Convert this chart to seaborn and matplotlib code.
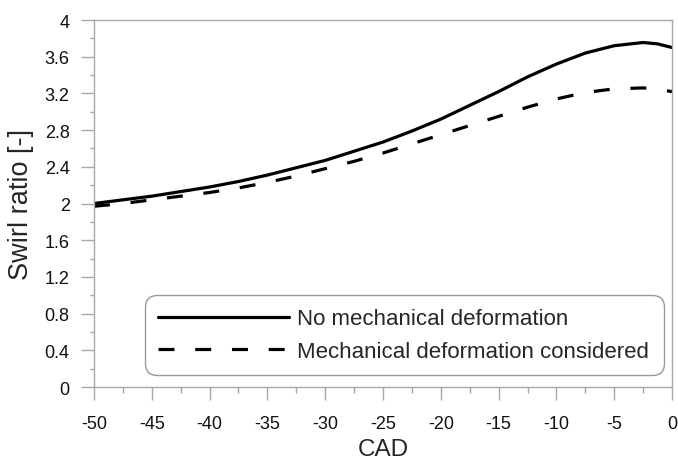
import matplotlib
matplotlib.use("Agg")
import matplotlib.pyplot as plt
from matplotlib.ticker import MultipleLocator, FuncFormatter
import numpy as np
import pandas as pd
import seaborn as sns

# Crank angle (degrees) and swirl ratio for the two cases
cad = [-50, -47.5, -45, -42.5, -40, -37.5, -35, -32.5, -30, -27.5, -25,
       -22.5, -20, -17.5, -15, -12.5, -10, -7.5, -5, -2.5, -1.25, 0]
swirl_rigid = [2.00, 2.04, 2.08, 2.13, 2.18, 2.24, 2.31, 2.39, 2.47, 2.57, 2.67,
               2.79, 2.92, 3.07, 3.22, 3.38, 3.52, 3.64, 3.72, 3.755, 3.74, 3.70]
swirl_deformed = [1.97, 2.00, 2.04, 2.08, 2.12, 2.17, 2.23, 2.30, 2.38, 2.46, 2.55,
                  2.65, 2.75, 2.85, 2.95, 3.05, 3.14, 3.21, 3.25, 3.26, 3.245, 3.22]

label_rigid = "No mechanical deformation"
label_deformed = "Mechanical deformation considered"

df = pd.concat([
    pd.DataFrame({"CAD": cad, "swirl": swirl_rigid, "case": label_rigid}),
    pd.DataFrame({"CAD": cad, "swirl": swirl_deformed, "case": label_deformed}),
], ignore_index=True)

sns.set_style("ticks")
plt.rcParams["font.family"] = ["Liberation Sans", "DejaVu Sans"]

fig = plt.figure(figsize=(6.78, 4.6), dpi=100)
ax = fig.add_axes([0.1386, 0.1565, 0.8526, 0.7978])

sns.lineplot(
    data=df, x="CAD", y="swirl", style="case",
    style_order=[label_rigid, label_deformed],
    dashes={label_rigid: "", label_deformed: (5, 6.5)},
    color="black", linewidth=2.3, ax=ax, sort=False,
)

ax.set_xlim(-50, 0)
ax.set_ylim(0, 4)
ax.xaxis.set_major_locator(MultipleLocator(5))
ax.xaxis.set_minor_locator(MultipleLocator(2.5))
ax.yaxis.set_major_locator(MultipleLocator(0.4))
ax.yaxis.set_minor_locator(MultipleLocator(0.2))
ax.yaxis.set_major_formatter(FuncFormatter(lambda v, p: f"{v:g}"))
ax.xaxis.set_major_formatter(FuncFormatter(lambda v, p: f"{v:g}"))

spine_gray = "#a8a8a8"
for s in ax.spines.values():
    s.set_visible(True)
    s.set_color(spine_gray)
    s.set_linewidth(1.0)

ax.tick_params(axis="both", which="major", direction="out", length=9.5,
               width=1.0, color=spine_gray, labelsize=13, labelcolor="#111111")
ax.tick_params(axis="y", which="major", pad=8)
ax.tick_params(axis="x", which="major", pad=11)
ax.tick_params(axis="x", which="minor", direction="out", length=4,
               width=1.0, color=spine_gray)
ax.tick_params(axis="y", which="minor", direction="out", length=3,
               width=1.0, color=spine_gray)

ax.set_xlabel("CAD", fontsize=17.5, labelpad=4)
ax.set_ylabel("Swirl ratio [-]", fontsize=19.5, labelpad=8)

handles, labels = ax.get_legend_handles_labels()
leg = ax.legend(
    handles, labels,
    loc="lower left", bbox_to_anchor=(0.088, 0.033, 0.898, 0.23),
    mode="expand", fontsize=16, handlelength=5.9, handletextpad=0.35,
    labelspacing=0.5, borderpad=0.6, borderaxespad=0,
    frameon=True, fancybox=True, framealpha=1,
)
frame = leg.get_frame()
frame.set_edgecolor("#999999")
frame.set_linewidth(1.0)
frame.set_boxstyle("round", pad=0, rounding_size=0.55)

fig.savefig("out.png", dpi=100)
